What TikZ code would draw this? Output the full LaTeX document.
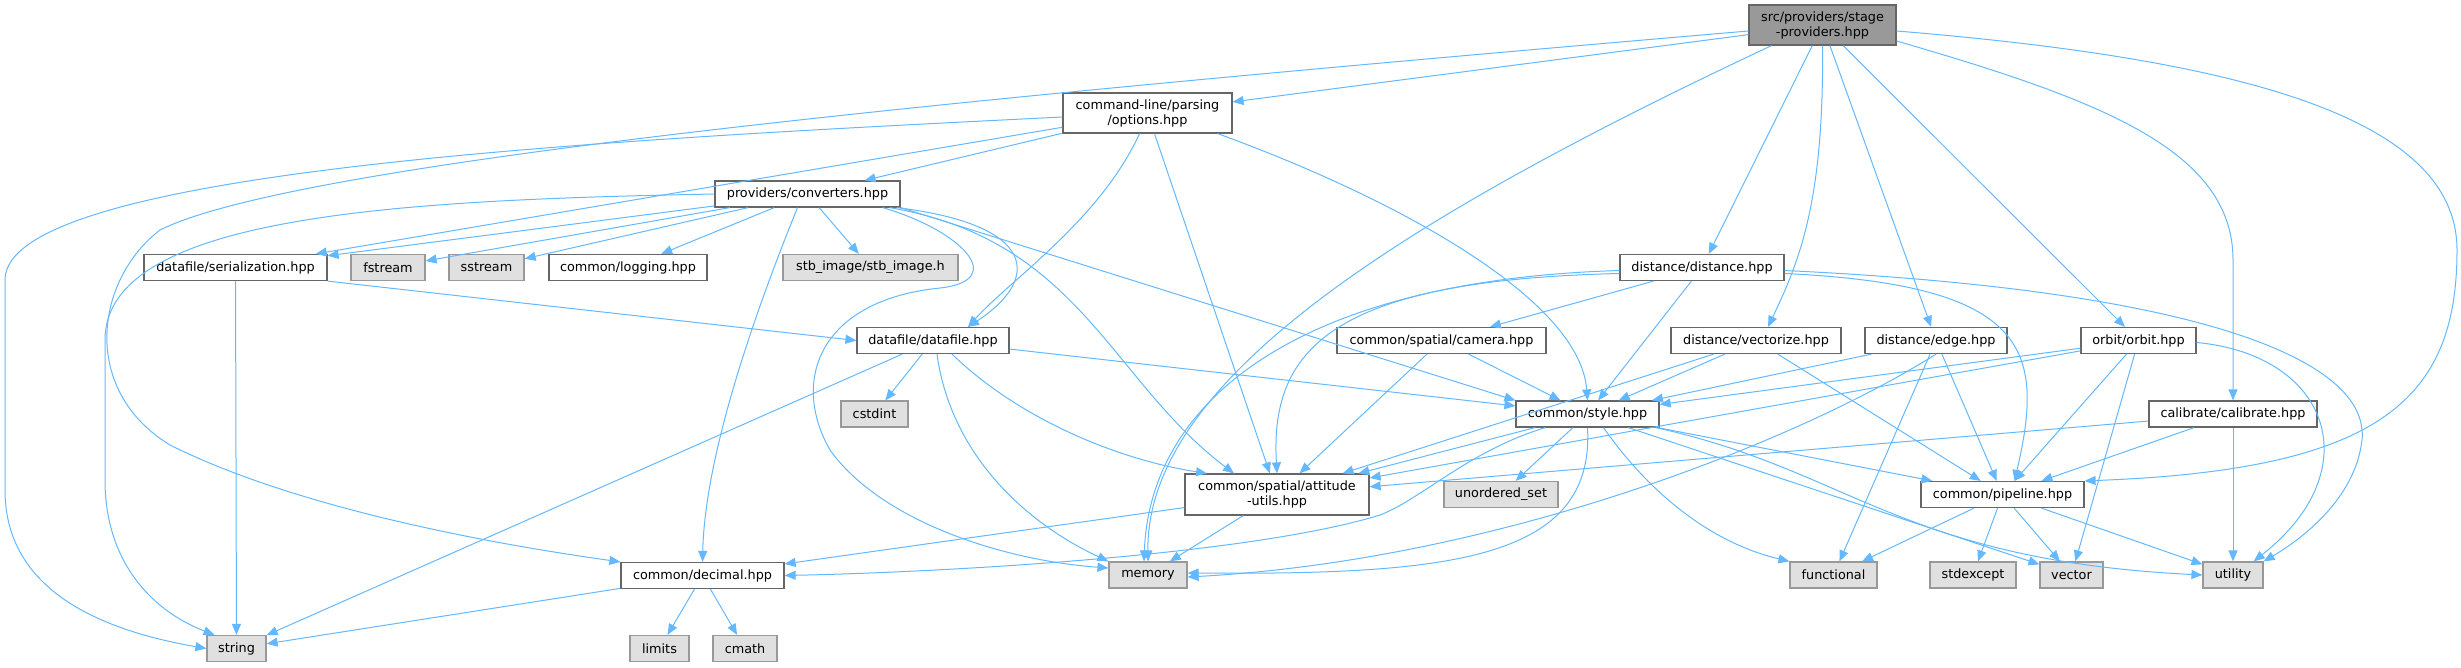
\documentclass[tikz,border=0pt]{standalone}
\usepackage{fontspec}
\setmainfont{DejaVu Sans}
\usetikzlibrary{arrows.meta}
\definecolor{edgeblue}{HTML}{63B8FF}
\definecolor{boxline}{HTML}{666666}
\definecolor{sysfill}{HTML}{E0E0E0}
\definecolor{sysline}{HTML}{999999}
\definecolor{rootfill}{HTML}{999999}
\tikzset{
    file/.style={draw=boxline, fill=white, line width=1.2pt, inner sep=0pt, minimum height=26pt, align=center, font=\fontsize{12.8}{15}\selectfont},
    sys/.style={file, draw=sysline, fill=sysfill},
    root/.style={file, fill=rootfill},
    dep/.style={draw=edgeblue, line width=1pt, -{Triangle[length=11pt,width=9pt]}}
}
\begin{document}
\begin{tikzpicture}[x=1pt,y=-1pt]
            \useasboundingbox (0,0) rectangle (2461,667);
            \node[root, minimum width=147pt, minimum height=40pt] (stage) at (1822.5,25) {src/providers/stage\\-providers.hpp};
            \node[file, minimum width=169pt, minimum height=40pt] (options) at (1147.5,113) {command-line/parsing\\/options.hpp};
            \node[file, minimum width=185pt] (conv) at (807.5,194) {providers/converters.hpp};
            \node[file, minimum width=183pt] (serial) at (235.5,267.5) {datafile/serialization.hpp};
            \node[sys, minimum width=74pt] (fstream) at (388,267.5) {fstream};
            \node[sys, minimum width=75pt] (sstream) at (486.5,267.5) {sstream};
            \node[file, minimum width=158pt] (logging) at (628,267.5) {common/logging.hpp};
            \node[sys, minimum width=175pt] (stbimage) at (870.5,267.5) {stb\_image/stb\_image.h};
            \node[file, minimum width=164pt] (distance) at (1702,267.5) {distance/distance.hpp};
            \node[file, minimum width=152pt] (datafile) at (933,340.5) {datafile/datafile.hpp};
            \node[file, minimum width=209pt] (camera) at (1441.5,340.5) {common/spatial/camera.hpp};
            \node[file, minimum width=170pt] (vectorize) at (1756,340.5) {distance/vectorize.hpp};
            \node[file, minimum width=142pt] (edgeh) at (1936,340.5) {distance/edge.hpp};
            \node[file, minimum width=115pt] (orbit) at (2138.5,340.5) {orbit/orbit.hpp};
            \node[sys, minimum width=67pt] (cstdint) at (874.5,414) {cstdint};
            \node[file, minimum width=143pt] (style) at (1587.5,414) {common/style.hpp};
            \node[file, minimum width=168pt] (calibrate) at (2233,414) {calibrate/calibrate.hpp};
            \node[file, minimum width=184pt, minimum height=41pt] (attitude) at (1277,494.5) {common/spatial/attitude\\-utils.hpp};
            \node[sys, minimum width=114pt] (unordered) at (1501,494.5) {unordered\_set};
            \node[file, minimum width=163pt] (pipeline) at (2002.5,494.5) {common/pipeline.hpp};
            \node[file, minimum width=163pt] (decimal) at (702.5,575.5) {common/decimal.hpp};
            \node[sys, minimum width=78pt] (memory) at (1148,575) {memory};
            \node[sys, minimum width=87pt] (functional) at (1833.5,575) {functional};
            \node[sys, minimum width=86pt] (stdexcept) at (1973,575) {stdexcept};
            \node[sys, minimum width=63pt] (vector) at (2071.5,575) {vector};
            \node[sys, minimum width=60pt] (utility) at (2233,575) {utility};
            \node[sys, minimum width=59pt] (string) at (236.5,648.5) {string};
            \node[sys, minimum width=59pt] (limits) at (659.5,648.5) {limits};
            \node[sys, minimum width=64pt] (cmath) at (745,648.5) {cmath};
            \foreach \a/\b in {stage/options, stage/distance, stage/edgeh, stage/orbit,
                options/serial, options/conv, options/attitude,
                conv/serial, conv/fstream, conv/sstream, conv/logging, conv/stbimage,
                serial/string, datafile/cstdint, datafile/string, datafile/style,
                attitude/decimal, attitude/memory, camera/attitude, camera/style,
                style/attitude, style/unordered, style/vector, style/pipeline,
                distance/camera, distance/style, vectorize/style, vectorize/attitude, vectorize/pipeline,
                edgeh/style, edgeh/functional, edgeh/pipeline,
                orbit/style, orbit/attitude, orbit/pipeline, orbit/vector,
                calibrate/attitude, calibrate/pipeline, calibrate/utility,
                pipeline/functional, pipeline/stdexcept, pipeline/vector, pipeline/utility,
                decimal/string, decimal/limits, decimal/cmath}
                \draw[dep] (\a) -- (\b);
            \draw[dep] ([yshift=-6pt]stage.west) .. controls (1000,95) and (300,160) .. (160,230) .. controls (95,280) and (80,390) .. (170,445) .. controls (300,510) and (500,545) .. (decimal.north west);
            \draw[dep] ([xshift=-51pt]stage.south) .. controls (1400,220) and (1146,380) .. (memory.north);
            \draw[dep] (stage.south) .. controls (1824,200) and (1800,260) .. ([xshift=12pt]vectorize.north);
            \draw[dep] ([yshift=-16pt]stage.east) .. controls (2100,100) and (2233,150) .. (2233,260) -- (calibrate.north);
            \draw[dep] ([yshift=-6pt]stage.east) .. controls (2250,60) and (2457,120) .. (2457,250) .. controls (2457,400) and (2380,470) .. (pipeline.north east);
            \draw[dep] ([yshift=-4pt]options.west) .. controls (600,140) and (5,170) .. (5,280) -- (5,490) .. controls (5,590) and (100,630) .. (string.west);
            \draw[dep] ([xshift=-8pt]options.south) .. controls (1100,220) and (1010,280) .. ([xshift=35pt]datafile.north);
            \draw[dep] ([xshift=-15pt]options.south east) .. controls (1400,200) and (1580,300) .. (style.north);
            \draw[dep] (conv.west) .. controls (400,200) and (105,215) .. (105,340) -- (105,480) .. controls (105,560) and (150,610) .. ([xshift=-22pt]string.north);
            \draw[dep] ([xshift=-10pt]conv.south) .. controls (760,300) and (705,450) .. (decimal.north);
            \draw[dep] ([xshift=-4pt]conv.south east) .. controls (1040,225) and (1040,280) .. ([xshift=35pt]datafile.north);
            \draw[dep] ([xshift=-18pt]conv.south east) .. controls (960,230) and (1010,280) .. (940,288) .. controls (820,300) and (790,380) .. (830,450) .. controls (880,520) and (1000,560) .. ([yshift=7pt]memory.west);
            \draw[dep] ([xshift=-11pt]conv.south east) .. controls (1080,240) and (1110,380) .. ([xshift=-43pt]attitude.north);
            \draw[dep] (conv.south east) -- (style.north west);
            \draw[dep] (serial.south east) -- (datafile.west);
            \draw[dep] ([xshift=4pt]datafile.south) .. controls (950,450) and (1020,520) .. (memory.north west);
            \draw[dep] ([xshift=19pt]datafile.south) .. controls (1020,420) and (1120,460) .. ([xshift=-70pt]attitude.north);
            \draw[dep] ([xshift=-42pt]style.south) .. controls (1470,450) and (1420,500) .. (1380,515) .. controls (1250,555) and (950,572) .. (decimal.east);
            \draw[dep] (style.south) .. controls (1595,560) and (1450,575) .. ([yshift=2pt]memory.east);
            \draw[dep] ([xshift=16pt]style.south) .. controls (1640,480) and (1700,540) .. (functional.north west);
            \draw[dep] ([xshift=-4pt]style.south east) .. controls (1850,470) and (1900,560) .. (utility.west);
            \draw[dep] ([yshift=-6pt]distance.west) .. controls (1330,280) and (1270,350) .. (attitude.north);
            \draw[dep] ([yshift=-3pt]distance.west) .. controls (1300,280) and (1150,400) .. ([xshift=-4pt]memory.north);
            \draw[dep] ([yshift=-6pt]distance.east) .. controls (2030,285) and (2045,350) .. ([xshift=12pt]pipeline.north);
            \draw[dep] ([yshift=-3pt]distance.east) .. controls (2200,290) and (2370,360) .. (2362,440) .. controls (2355,500) and (2300,540) .. (utility.north east);
            \draw[dep] (edgeh.south) .. controls (1800,440) and (1500,560) .. ([yshift=-2pt]memory.east);
            \draw[dep] ([yshift=-2pt]orbit.east) .. controls (2330,355) and (2370,470) .. ([xshift=-10pt]utility.north east);
        \end{tikzpicture}
\end{document}
